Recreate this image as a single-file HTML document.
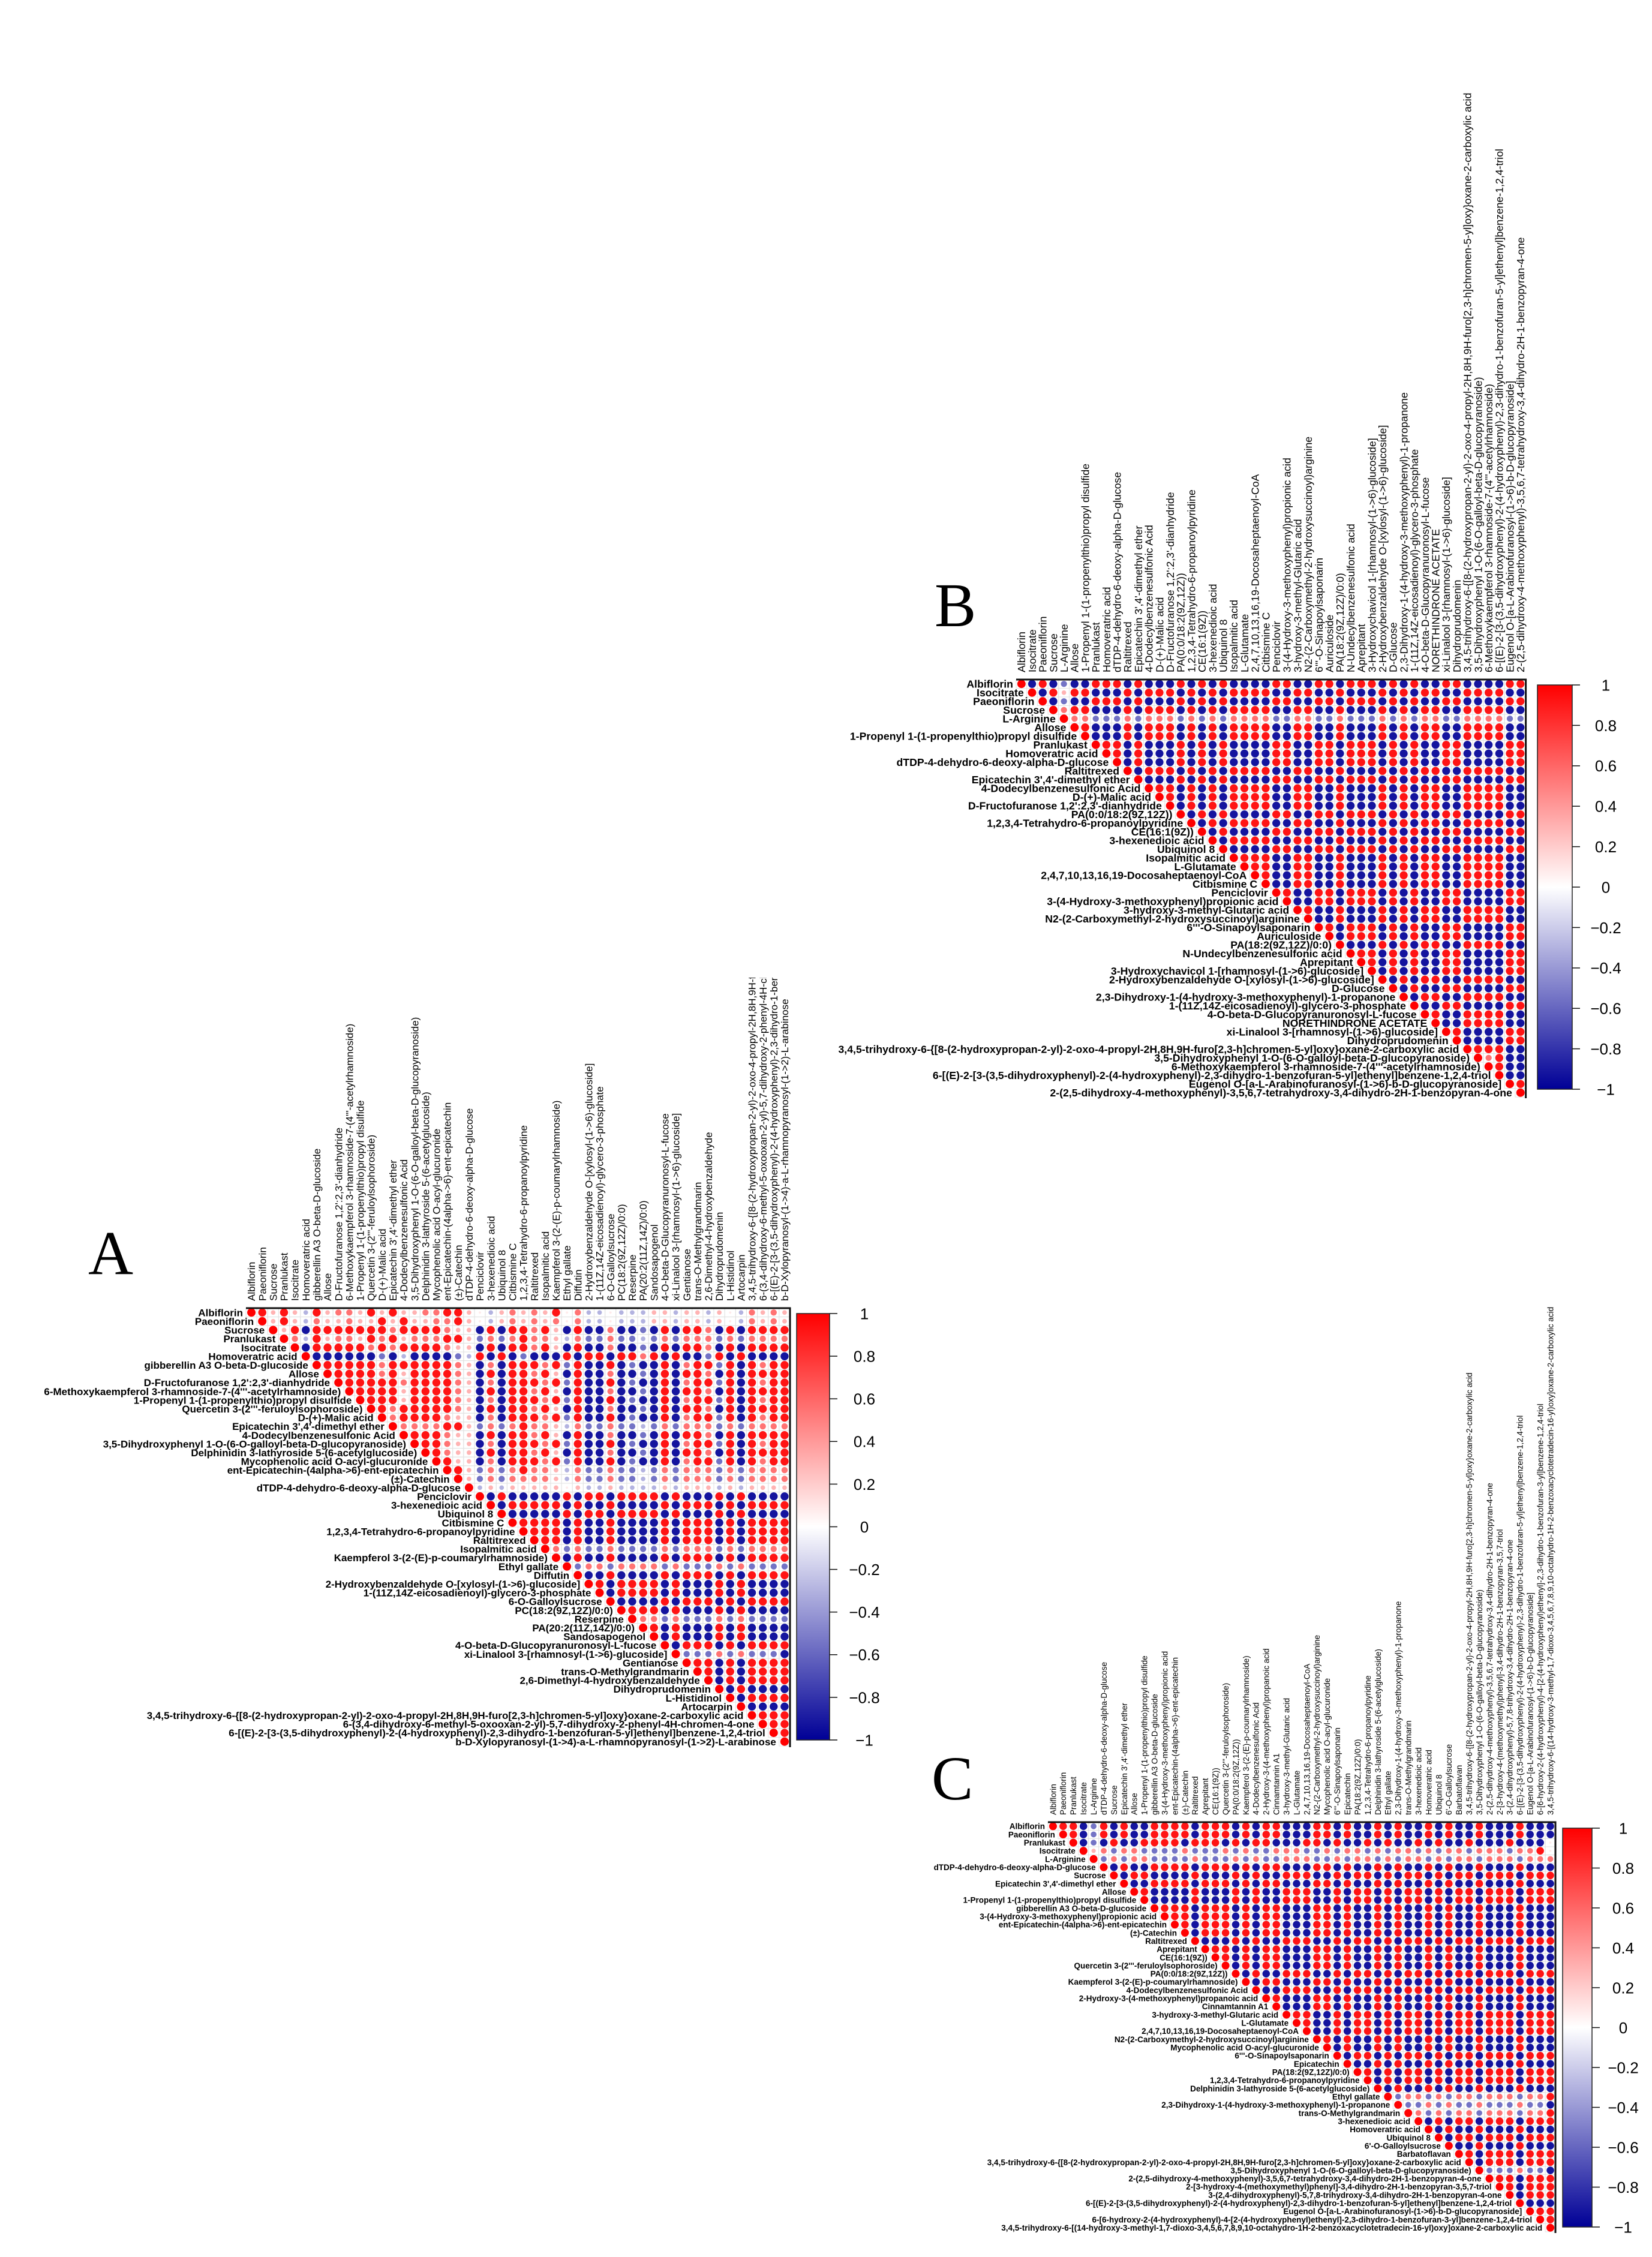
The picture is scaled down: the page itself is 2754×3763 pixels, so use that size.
<!DOCTYPE html>
<html><head><meta charset="utf-8">
<style>
html,body{margin:0;padding:0;background:#fff;}
svg{display:block;}
text{font-family:"Liberation Sans",Arial,sans-serif;fill:#000;}
.letter{font-family:"Liberation Serif","Times New Roman",serif;}
</style></head>
<body>
<svg id="fig" width="2754" height="3763" viewBox="0 0 2754 3763" xmlns="http://www.w3.org/2000/svg">
<defs>
<linearGradient id="cbgrad" x1="0" y1="1" x2="0" y2="0">
<stop offset="0" stop-color="#000096"/>
<stop offset="0.5" stop-color="#ffffff"/>
<stop offset="1" stop-color="#ff0000"/>
</linearGradient>
<clipPath id="clipA"><rect x="0" y="1630" width="2754" height="2133"/></clipPath>
<clipPath id="clipAll"><rect x="0" y="0" width="2754" height="3763"/></clipPath>
</defs>
<text class="letter" x="147" y="2124" font-size="104">A</text>
<text class="letter" x="1558" y="1044" font-size="104">B</text>
<text class="letter" x="1553" y="3000" font-size="104">C</text>
</svg>
<script>
// ---------- Panel A data ----------
const labelsA = ["Albiflorin","Paeoniflorin","Sucrose","Pranlukast","Isocitrate","Homoveratric acid","gibberellin A3 O-beta-D-glucoside","Allose","D-Fructofuranose 1,2':2,3'-dianhydride","6-Methoxykaempferol 3-rhamnoside-7-(4'''-acetylrhamnoside)","1-Propenyl 1-(1-propenylthio)propyl disulfide","Quercetin 3-(2'''-feruloylsophoroside)","D-(+)-Malic acid","Epicatechin 3',4'-dimethyl ether","4-Dodecylbenzenesulfonic Acid","3,5-Dihydroxyphenyl 1-O-(6-O-galloyl-beta-D-glucopyranoside)","Delphinidin 3-lathyroside 5-(6-acetylglucoside)","Mycophenolic acid O-acyl-glucuronide","ent-Epicatechin-(4alpha->6)-ent-epicatechin","(±)-Catechin","dTDP-4-dehydro-6-deoxy-alpha-D-glucose","Penciclovir","3-hexenedioic acid","Ubiquinol 8","Citbismine C","1,2,3,4-Tetrahydro-6-propanoylpyridine","Raltitrexed","Isopalmitic acid","Kaempferol 3-(2-(E)-p-coumarylrhamnoside)","Ethyl gallate","Diffutin","2-Hydroxybenzaldehyde O-[xylosyl-(1->6)-glucoside]","1-(11Z,14Z-eicosadienoyl)-glycero-3-phosphate","6-O-Galloylsucrose","PC(18:2(9Z,12Z)/0:0)","Reserpine","PA(20:2(11Z,14Z)/0:0)","Sandosapogenol","4-O-beta-D-Glucopyranuronosyl-L-fucose","xi-Linalool 3-[rhamnosyl-(1->6)-glucoside]","Gentianose","trans-O-Methylgrandmarin","2,6-Dimethyl-4-hydroxybenzaldehyde","Dihydroprudomenin","L-Histidinol","Artocarpin","3,4,5-trihydroxy-6-{[8-(2-hydroxypropan-2-yl)-2-oxo-4-propyl-2H,8H,9H-furo[2,3-h]chromen-5-yl]oxy}oxane-2-carboxylic acid","6-(3,4-dihydroxy-6-methyl-5-oxooxan-2-yl)-5,7-dihydroxy-2-phenyl-4H-chromen-4-one","6-[(E)-2-[3-(3,5-dihydroxyphenyl)-2-(4-hydroxyphenyl)-2,3-dihydro-1-benzofuran-5-yl]ethenyl]benzene-1,2,4-triol","b-D-Xylopyranosyl-(1->4)-a-L-rhamnopyranosyl-(1->2)-L-arabinose"];
const rowsA = [
"RRpRpqRprrpRpRpprrRRp.qprprpR.rqq.qqqppqppqp.qrprp",
"RpRpqrpprppRpRpprrRp.qprprpr.rqq.qqqppqppqp.qrprp",
"RpRBRRRRRRRrRRRRrppBRBRRrRpBRBBrBBbBRBRRrBRBRRRR",
"RrqRprrpRrRprrrRRpbrbrRrrpqrbbrbbqbrbrrrbrbrrrr",
"RBRRRRRrRrRRRRrppBRBRRrRpBRBBrBBbBRBRRrBRBRRRR",
"RBBBBBBbBqBBBBbqRBRBbBBBRBRRBRRrRBRBBbRBRBBBB",
"RRRRRRrRRRRRRrpBrBRRRrRbRBBRBbBBRBrRRbRBRrRR",
"RRRRRrRpRRRRrpBRBRRrRpBRBBrBBbBRBRRrBRBRRRR",
"RRRRRRrRRRRrpBrBRRRrRbRBBRBbBBRBrRRbRBRrRR",
"RRRRRpRRRRrpBRBRRrRpBRBBrBBbBRBRRrBRBRRRR",
"RRRRpRRRRrpBrBRRRrRbRBBRBbBBRBrRRbRBRrRR",
"RRrRRRRRrpBRBRRrRpBRBBrBBbBRBRRrBRBRRRR",
"RrRRRRrppBrBRRRrRbRBBRBbBBRBrRRbRBRrRR",
"RrrrrRRpbrbrRrrpqrbbrbbqbrbrrrbrbrrrr",
"RRRRrppBRBRRrRpBRBBrBBbBRBRRrBRBRRRR",
"RRRrppBrBRRRrRbRBBRBbBBRBrRRbRBRrRR",
"RRrppBRBRRrRpBRBBrBBbBRBRRrBRBRRRR",
"RRppBrBRRRrRbRBBRBbBBRBrRRbRBRrRR",
"RRpbrbrRrrpqrbbrbbqbrbrrrbrbrrrr",
"Rpbrbrrrrpqrbbrbbqbrbrrrbrbrrrr",
"Rqpqppppp.pqqpqqqqpqpppqpqpppp",
"RBRBBBBBRBRRBRRRRBRBBBRBRBBBB",
"RBRRRRRBRBBRBBBBRBRRRBRBRRRR",
"RBBBBBRBRRBRRRRBRBBBRBRBBBB",
"RRRRRBRBBRBBBBRBRRRBRBRRRR",
"RRRRBRBBRBBBBRBRRRBRBRRRR",
"RRRBRBBRBBBBRBRRRBRBRRRR",
"Rrbrbbrbbbbrbrrrbrbrrrr",
"RBRBBRBBBBRBRRRBRBRRRR",
"Rbrrbrrrrbrbbbrbrbbbb",
"RBBRBBBBRBRRRBRBRRRR",
"RRBRRRRBRBBBRBRBBBB",
"RBRRRRBRBBBRBRBBBB",
"RBBBBRBRRRBRBRRRR",
"RRRRBRBBBRBRBBBB",
"Rrrbrbbbrbrbbbb",
"RRBRBBBRBRBBBB",
"RBRBBBRBRBBBB",
"RBRRRBRBRRRR",
"RbbbrbrbbbB",
"RRRBRBRRRR",
"RRBRBRRRR",
"RBRBRRRR",
"RBRBBBB",
"RBRRRR",
"RBBBB",
"RRRR",
"RRR",
"RR",
"R"
];
// ---------- Panel B data ----------
const labelsB = ["Albiflorin","Isocitrate","Paeoniflorin","Sucrose","L-Arginine","Allose","1-Propenyl 1-(1-propenylthio)propyl disulfide","Pranlukast","Homoveratric acid","dTDP-4-dehydro-6-deoxy-alpha-D-glucose","Raltitrexed","Epicatechin 3',4'-dimethyl ether","4-Dodecylbenzenesulfonic Acid","D-(+)-Malic acid","D-Fructofuranose 1,2':2,3'-dianhydride","PA(0:0/18:2(9Z,12Z))","1,2,3,4-Tetrahydro-6-propanoylpyridine","CE(16:1(9Z))","3-hexenedioic acid","Ubiquinol 8","Isopalmitic acid","L-Glutamate","2,4,7,10,13,16,19-Docosaheptaenoyl-CoA","Citbismine C","Penciclovir","3-(4-Hydroxy-3-methoxyphenyl)propionic acid","3-hydroxy-3-methyl-Glutaric acid","N2-(2-Carboxymethyl-2-hydroxysuccinoyl)arginine","6'''-O-Sinapoylsaponarin","Auriculoside","PA(18:2(9Z,12Z)/0:0)","N-Undecylbenzenesulfonic acid","Aprepitant","3-Hydroxychavicol 1-[rhamnosyl-(1->6)-glucoside]","2-Hydroxybenzaldehyde O-[xylosyl-(1->6)-glucoside]","D-Glucose","2,3-Dihydroxy-1-(4-hydroxy-3-methoxyphenyl)-1-propanone","1-(11Z,14Z-eicosadienoyl)-glycero-3-phosphate","4-O-beta-D-Glucopyranuronosyl-L-fucose","NORETHINDRONE ACETATE","xi-Linalool 3-[rhamnosyl-(1->6)-glucoside]","Dihydroprudomenin","3,4,5-trihydroxy-6-{[8-(2-hydroxypropan-2-yl)-2-oxo-4-propyl-2H,8H,9H-furo[2,3-h]chromen-5-yl]oxy}oxane-2-carboxylic acid","3,5-Dihydroxyphenyl 1-O-(6-O-galloyl-beta-D-glucopyranoside)","6-Methoxykaempferol 3-rhamnoside-7-(4'''-acetylrhamnoside)","6-[(E)-2-[3-(3,5-dihydroxyphenyl)-2-(4-hydroxyphenyl)-2,3-dihydro-1-benzofuran-5-yl]ethenyl]benzene-1,2,4-triol","Eugenol O-[a-L-Arabinofuranosyl-(1->6)-b-D-glucopyranoside]","2-(2,5-dihydroxy-4-methoxyphenyl)-3,5,6,7-tetrahydroxy-3,4-dihydro-2H-1-benzopyran-4-one"];
const rowsB = [
"RBRBbBBRRRBRBBBRBRBRBBBBRRBBRRBRRRBRBRBBRRBBBBRR",
"RBRpRRBBBRBRRRBRBRBRRRRBBRRBBRBBBRBRBRRBBRRRRBB",
"RBbBBRRRBRBBBRBRBRBBBBRRBBRRBRRRBRBRBBRRBBBBRR",
"RrRRBBBRBRRRBRBRBRRRRBBRRBBRBBBRBRBRRBBRRRRBB",
"Rrrbbbrbrrrbrbrbrrrrbbrrbbrbbbrbrbrrbbrrrrbb",
"RRBBBRBRRRBRBRBRRRRBBRRBBRBBBRBRBRRBBRRRRBB",
"RBBBRBRRRBRBRBRRRRBBRRBBRBBBRBRBRRBBRRRRBB",
"RRRBRBBBRBRBRBBBBRRBBRRBRRRBRBRBBRRBBBBRR",
"RRBRBBBRBRBRBBBBRRBBRRBRRRBRBRBBRRBBBBRR",
"RBRBBBRBRBRBBBBRRBBRRBRRRBRBRBBRRBBBBRR",
"RBRRRBRBRBRRRRBBRRBBRBBBRBRBRRBBRRRRBB",
"RBBBRBRBRBBBBRRBBRRBRRRBRBRBBRRBBBBRR",
"RRRBRBRBRRRRBBRRBBRBBBRBRBRRBBRRRRBB",
"RRBRBRBRRRRBBRRBBRBBBRBRBRRBBRRRRBB",
"RBRBRBRRRRBBRRBBRBBBRBRBRRBBRRRRBB",
"RBRBRBBBBRRBBRRBRRRBRBRBBRRBBBBRR",
"RBRBRRRRBBRRBBRBBBRBRBRRBBRRRRBB",
"RBRBBBBRRBBRRBRRRBRBRBBRRBBBBRR",
"RBRRRRBBRRBBRBBBRBRBRRBBRRRRBB",
"RBBBBRRBBRRBRRRBRBRBBRRBBBBRR",
"RRRRBBRRBBRBBBRBRBRRBBRRRRBB",
"RRRBBRRBBRBBBRBRBRRBBRRRRBB",
"RRBBRRBBRBBBRBRBRRBBRRRRBB",
"RBBRRBBRBBBRBRBRRBBRRRRBB",
"RRBBRRBRRRBRBRBBRRBBBBRR",
"RBBRRBRRRBRBRBBRRBBBBRR",
"RRBBRBBBRBRBRRBBRRRRBB",
"RBBRBBBRBRBRRBBRRRRBB",
"RRBRRRBRBRBBRRBBBBRR",
"RBRRRBRBRBBRRBBBBRR",
"RBBBRBRBRRBBRRRRBB",
"RRRBRBRBBRRBBBBRR",
"RRBRBRBBRRBBBBRR",
"RBRBRBBRRBBBBRR",
"RBRBRRBBRRRRBB",
"RBRBBRRBBBBRR",
"RBRRBBRRRRBB",
"RBBRRBBBBRR",
"RRBBRRRRBB",
"RBBRRRRBB",
"RRBBBBRR",
"RBBBBRR",
"RRRRBB",
"RrRBB",
"RRBB",
"RBB",
"RR",
"R"
];
// ---------- Panel C data ----------
const labelsC = ["Albiflorin","Paeoniflorin","Pranlukast","Isocitrate","L-Arginine","dTDP-4-dehydro-6-deoxy-alpha-D-glucose","Sucrose","Epicatechin 3',4'-dimethyl ether","Allose","1-Propenyl 1-(1-propenylthio)propyl disulfide","gibberellin A3 O-beta-D-glucoside","3-(4-Hydroxy-3-methoxyphenyl)propionic acid","ent-Epicatechin-(4alpha->6)-ent-epicatechin","(±)-Catechin","Raltitrexed","Aprepitant","CE(16:1(9Z))","Quercetin 3-(2'''-feruloylsophoroside)","PA(0:0/18:2(9Z,12Z))","Kaempferol 3-(2-(E)-p-coumarylrhamnoside)","4-Dodecylbenzenesulfonic Acid","2-Hydroxy-3-(4-methoxyphenyl)propanoic acid","Cinnamtannin A1","3-hydroxy-3-methyl-Glutaric acid","L-Glutamate","2,4,7,10,13,16,19-Docosaheptaenoyl-CoA","N2-(2-Carboxymethyl-2-hydroxysuccinoyl)arginine","Mycophenolic acid O-acyl-glucuronide","6'''-O-Sinapoylsaponarin","Epicatechin","PA(18:2(9Z,12Z)/0:0)","1,2,3,4-Tetrahydro-6-propanoylpyridine","Delphinidin 3-lathyroside 5-(6-acetylglucoside)","Ethyl gallate","2,3-Dihydroxy-1-(4-hydroxy-3-methoxyphenyl)-1-propanone","trans-O-Methylgrandmarin","3-hexenedioic acid","Homoveratric acid","Ubiquinol 8","6'-O-Galloylsucrose","Barbatoflavan","3,4,5-trihydroxy-6-{[8-(2-hydroxypropan-2-yl)-2-oxo-4-propyl-2H,8H,9H-furo[2,3-h]chromen-5-yl]oxy}oxane-2-carboxylic acid","3,5-Dihydroxyphenyl 1-O-(6-O-galloyl-beta-D-glucopyranoside)","2-(2,5-dihydroxy-4-methoxyphenyl)-3,5,6,7-tetrahydroxy-3,4-dihydro-2H-1-benzopyran-4-one","2-[3-hydroxy-4-(methoxymethyl)phenyl]-3,4-dihydro-2H-1-benzopyran-3,5,7-triol","3-(2,4-dihydroxyphenyl)-5,7,8-trihydroxy-3,4-dihydro-2H-1-benzopyran-4-one","6-[(E)-2-[3-(3,5-dihydroxyphenyl)-2-(4-hydroxyphenyl)-2,3-dihydro-1-benzofuran-5-yl]ethenyl]benzene-1,2,4-triol","Eugenol O-[a-L-Arabinofuranosyl-(1->6)-b-D-glucopyranoside]","6-[6-hydroxy-2-(4-hydroxyphenyl)-4-[2-(4-hydroxyphenyl)ethenyl]-2,3-dihydro-1-benzofuran-3-yl]benzene-1,2,4-triol","3,4,5-trihydroxy-6-[(14-hydroxy-3-methyl-1,7-dioxo-3,4,5,6,7,8,9,10-octahydro-1H-2-benzoxacyclotetradecin-16-yl)oxy]oxane-2-carboxylic acid"];
const rowsC = [
"RRRBbRBRBBRRRRBRRRBRBRRBBBRRBRBBRBRBBRBRBBRBBBRBBB",
"RRBbRBRBBRRRRBRRRBRBRRBBBRRBRBBRBRBBRBRBBRBBBRBBB",
"RBbBRBBRRRRBRRRBRBRRBBBRRBRBBRBRBBRBRBBRBBBRBBB",
"RprbrrbbbbrbbbrbrbbrrrbbrbrrbrbrrbrbrrbrrrbrrR",
"Rbrbrrbbbbrbbbrbrbbrrrbbrbrrbrbrrbrbrrbrrrbrrr",
"RBRBBRRRRBRRRBRBRRBBBRRBRBBRBRBBRBRBBRBBBRBBB",
"RBRRBBBBRBBBRBRBBRRRBBRBRRBRBRRBRBRRBRRRBRRR",
"RBBRRRRBRRRBRBRRBBBRRBRBBRBRBBRBRBBRBBBRBBB",
"RRBBBBRBBBRBRBBRRRBBRBRRBRBRRBRBRRBRRRBRRR",
"RBBBBRBBBRBRBBRRRBBRBRRBRBRRBRBRRBRRRBRRR",
"RRRRBRRRBRBRRBBBRRBRBBRBRBBRBRBBRBBBRBBB",
"RRRBRRRBRBRRBBBRRBRBBRBRBBRBRBBRBBBRBBB",
"RRBRRRBRBRRBBBRRBRBBRBRBBRBRBBRBBBRBBB",
"RBRRRBRBRRBBBRRBRBBRBRBBRBRBBRBBBRBBB",
"RBBBRBRBBRRRBBRBRRBRBRRBRBRRBRRRBRRR",
"RRRBRBRRBBBRRBRBBRBRBBRBRBBRBBBRBBB",
"RRBRBRRBBBRRBRBBRBRBBRBRBBRBBBRBBB",
"RBRBRRBBBRRBRBBRBRBBRBRBBRBBBRBBB",
"RBRBBRRRBBRBRRBRBRRBRBRRBRRRBRRR",
"RBRRBBBRRBRBBRBRBBRBRBBRBBBRBBB",
"RBBRRRBBRBRRBRBRRBRBRRBRRRBRRR",
"RRBBBRRBRBBRBRBBRBRBBRBBBRBBB",
"RBBBRRBRBBRBRBBRBRBBRBBBRBBB",
"RRRBBRBRRBRBRRBRBRRBRRRBRRR",
"RRBBRBRRBRBRRBRBRRBRRRBRRR",
"RBBRBRRBRBRRBRBRRBRRRBRRR",
"RRBRBBRBRBBRBRBBRBBBRBBB",
"RBRBBRBRBBRBRBBRBBBRBBB",
"RBRRBRBRRBRBRRBRRRBRRR",
"RBBRBRBBRBRBBRBBBRBBB",
"RRBRBRRBRBRRBRRRBRRR",
"RBRBRRBRBRRBRRRBRRR",
"RBRBBRBRBBRBBBRBBB",
"RbrrbrbrrbrrrbrrR",
"RbbrbrbbrbbbrbbB",
"RrbrbrrbrrrbrrR",
"RBRBRRBRRRBRRR",
"RBRBBRBBBRBBB",
"RBRRBRRRBRRR",
"RBBRBBBRBBB",
"RRBRRRBRRR",
"RBRRRBRRR",
"RbbbrbbB",
"RRRBRRR",
"RRBRRR",
"RBRRR",
"RBBB",
"RRR",
"RR",
"R"
];
// colorbar ticks (shared)
const cbTicks = [1,0.8,0.6,0.4,0.2,0,-0.2,-0.4,-0.6,-0.8,-1];
const cbTickLabels = ["1","0.8","0.6","0.4","0.2","0","\u22120.2","\u22120.4","\u22120.6","\u22120.8","\u22121"];
// symbol -> correlation value
const levelChars = ["R","r","p",".","q","b","B"];
const levelValues = [0.92,0.55,0.3,0.08,-0.3,-0.55,-0.92];
</script>
<script>
const NS = "http://www.w3.org/2000/svg";
const svg = document.getElementById("fig");
function mk(tag, attrs, parent){
  const e = document.createElementNS(NS, tag);
  for (const k in attrs) e.setAttribute(k, attrs[k]);
  (parent||svg).appendChild(e);
  return e;
}
function valOf(ch){
  const i = levelChars.indexOf(ch);
  return i < 0 ? 0.05 : levelValues[i];
}
function colorOf(v){
  v = Math.max(-1, Math.min(1, v));
  let r,g,b;
  if (v >= 0){ r = 255; g = Math.round(255*(1-v)); b = Math.round(255*(1-v)); }
  else { const t = -v; r = Math.round(255*(1-t)); g = Math.round(255*(1-t)); b = Math.round(255 - (255-150)*t); }
  return "rgb("+r+","+g+","+b+")";
}
function drawPanel(p){
  const n = p.labels.length;
  const g = mk("g", {"clip-path":"url(#"+p.clip+")"});
  
  
  const xs = i => p.left + i*p.pw;
  const ys = i => p.top + i*p.ph;
  for (let i=0;i<n;i++){
    for (let j=i;j<n;j++){
      const c = mk("rect", {x:xs(j), y:ys(i), width:p.pw, height:p.ph, fill:"none", stroke:"#e2e2e2", "stroke-width":1}, g);
      
      
    }
  }
  const rmax = 0.5*Math.min(p.pw, p.ph);
  for (let i=0;i<n;i++){
    const row = p.rows[i] || "R";
    for (let j=i;j<n;j++){
      const ch = j-i < row.length ? row[j-i] : ".";
      const v = (j===i) ? 1 : valOf(ch);
      const circ = mk("circle", {cx:xs(j)+p.pw/2, cy:ys(i)+p.ph/2, r:(rmax*0.96*Math.sqrt(Math.abs(v))).toFixed(2), fill:colorOf(v)}, g);
      
      
    }
  }
  for (let i=0;i<n;i++){
    const t = mk("text", {x:xs(i)-5, y:ys(i)+p.ph/2, "text-anchor":"end", dy:"0.36em", "font-size":p.fs, "font-weight":"bold"}, g);
    t.textContent = p.labels[i];
    
    
  }
  for (let j=0;j<n;j++){
    const cx = xs(j)+p.pw/2, y0 = p.top-12;
    const t = mk("text", {x:cx, y:y0, "text-anchor":"start", dy:"0.36em", "font-size":p.fs, transform:"rotate(-90 "+cx+" "+y0+")"}, g);
    t.textContent = p.labels[j];
    
    
  }
  const right = xs(n), bottom = ys(n);
  const bt = mk("line", {x1:p.left, y1:p.top, x2:right+1.5, y2:p.top, stroke:"#111", "stroke-width":3}, g);
  
  
  const br = mk("line", {x1:right, y1:p.top, x2:right, y2:bottom+2, stroke:"#111", "stroke-width":3}, g);
  
  
  const cb = mk("rect", {x:p.cbx, y:p.cby0, width:p.cbw, height:p.cby1-p.cby0, fill:"url(#cbgrad)", stroke:"#222", "stroke-width":1.5}, g);
  
  
  const cr = p.cbx + p.cbw;
  for (let k=0;k<cbTicks.length;k++){
    const y = p.cby1 - (cbTicks[k]+1)/2*(p.cby1-p.cby0);
    const tk = mk("line", {x1:cr, y1:y, x2:cr+13, y2:y, stroke:"#111", "stroke-width":1.5}, g);
    
    
    const tl = mk("text", {x:cr+p.cbLab, y:y, "text-anchor":"middle", dy:"0.36em", "font-size":p.cbfs}, g);
    tl.textContent = cbTickLabels[k];
    
    
  }
}
drawPanel({name:"panel-a-corrplot", clip:"clipA", labels:labelsA, rows:rowsA, left:410, top:2181, pw:18.14, ph:14.6, fs:17,
  cbx:1328, cbw:55, cby0:2190, cby1:2901, cbfs:26, cbLab:58});
drawPanel({name:"panel-b-corrplot", clip:"clipAll", labels:labelsB, rows:rowsB, left:1694, top:1133, pw:17.7, ph:14.5, fs:17.7,
  cbx:2563, cbw:58, cby0:1142, cby1:1816, cbfs:26, cbLab:56});
drawPanel({name:"panel-c-corrplot", clip:"clipAll", labels:labelsC, rows:rowsC, left:1747, top:3038, pw:16.92, ph:13.66, fs:13.5,
  cbx:2605, cbw:49, cby0:3048, cby1:3713, cbfs:26, cbLab:52});
</script>
</body></html>
